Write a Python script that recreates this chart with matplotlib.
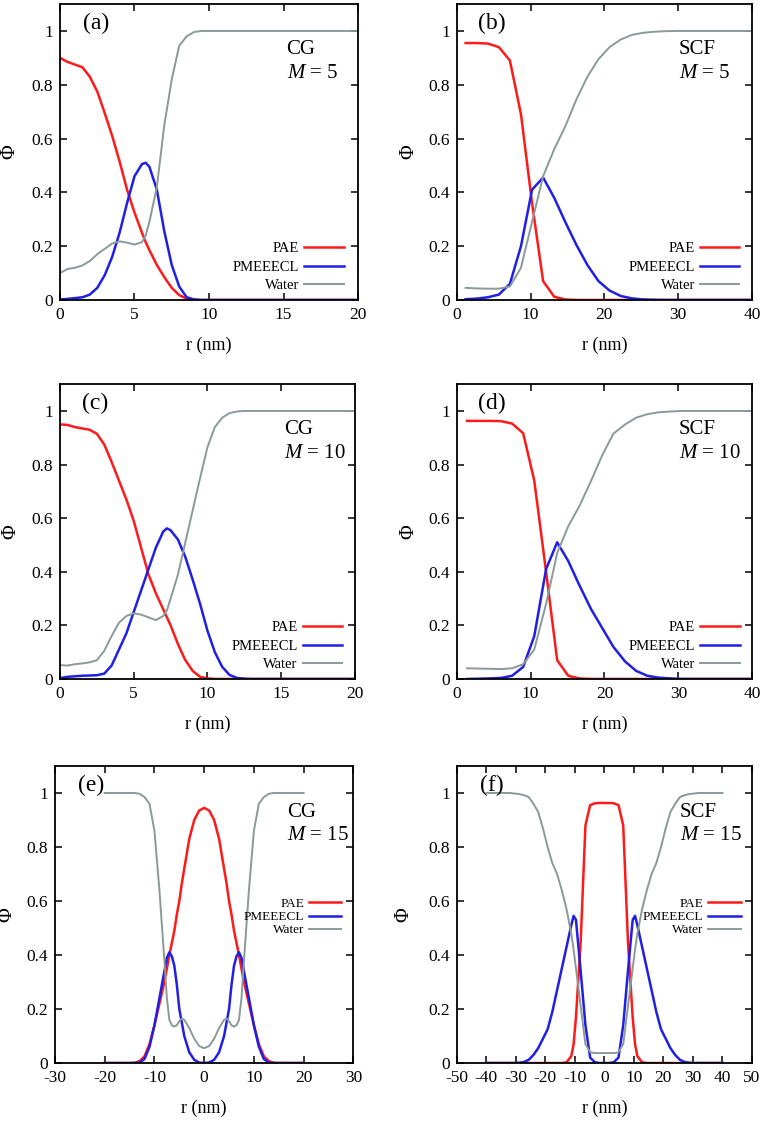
import matplotlib
matplotlib.use("Agg")
import matplotlib.pyplot as plt

plt.rcParams['font.family'] = ['Liberation Serif', 'DejaVu Serif']
plt.rcParams['mathtext.fontset'] = 'custom'
plt.rcParams['mathtext.rm'] = 'Liberation Serif'
plt.rcParams['mathtext.it'] = 'Liberation Serif:italic'

# ---- (a) CG, M = 5 ----
a_r = [0, 0.5, 1, 1.5, 2, 2.5, 3, 3.5, 4, 4.5, 5, 5.5, 5.75, 6, 6.5, 7, 7.5, 8, 8.5, 9, 9.5, 10, 20]
a_pae = [0.90, 0.885, 0.875, 0.865, 0.83, 0.775, 0.695, 0.61, 0.515, 0.41, 0.325, 0.25, 0.215, 0.185, 0.13,
         0.085, 0.045, 0.018, 0.005, 0.001, 0.0, 0.0, 0.0]
a_pme = [0.002, 0.004, 0.007, 0.01, 0.02, 0.045, 0.092, 0.16, 0.25, 0.36, 0.46, 0.505, 0.51, 0.495, 0.41,
         0.255, 0.13, 0.05, 0.01, 0.002, 0.0, 0.0, 0.0]
a_wat = [0.10, 0.115, 0.12, 0.128, 0.145, 0.17, 0.19, 0.21, 0.218, 0.213, 0.206, 0.215, 0.24, 0.29, 0.42,
         0.65, 0.82, 0.945, 0.98, 0.996, 1.0, 1.0, 1.0]

# ---- (b) SCF, M = 5 ----
b_r = [1.2, 2.7, 4.2, 5.7, 7.2, 8.7, 10.2, 11.7, 13.2, 14.7, 16.2, 17.7, 19.2, 20.7, 22.2, 23.7, 25.2, 26.7,
       28.2, 29.7, 40]
b_pae = [0.955, 0.955, 0.953, 0.94, 0.89, 0.69, 0.36, 0.07, 0.012, 0.002, 0, 0, 0, 0, 0, 0, 0, 0, 0, 0, 0]
b_pme = [0.003, 0.005, 0.01, 0.02, 0.06, 0.2, 0.41, 0.455, 0.38, 0.29, 0.205, 0.13, 0.07, 0.035, 0.015, 0.006,
         0.002, 0.0005, 0, 0, 0]
b_wat = [0.045, 0.043, 0.042, 0.042, 0.05, 0.12, 0.29, 0.46, 0.56, 0.645, 0.745, 0.83, 0.895, 0.94, 0.968,
         0.985, 0.993, 0.997, 0.999, 1.0, 1.0]

# ---- (c) CG, M = 10 ----
c_r = [0, 0.5, 1, 1.5, 2, 2.5, 3, 3.5, 4, 4.5, 5, 5.5, 6, 6.5, 7, 7.25, 7.5, 8, 8.5, 9, 9.5, 10, 10.5, 11,
       11.5, 12, 12.5, 13, 20]
c_pae = [0.95, 0.948, 0.94, 0.935, 0.93, 0.915, 0.875, 0.81, 0.74, 0.67, 0.59, 0.49, 0.39, 0.32, 0.26, 0.23,
         0.2, 0.13, 0.07, 0.03, 0.008, 0.002, 0, 0, 0, 0, 0, 0, 0]
c_pme = [0.003, 0.008, 0.01, 0.012, 0.013, 0.014, 0.02, 0.05, 0.11, 0.17, 0.25, 0.33, 0.41, 0.49, 0.55, 0.562,
         0.555, 0.52, 0.455, 0.37, 0.28, 0.18, 0.1, 0.045, 0.015, 0.004, 0.001, 0, 0]
c_wat = [0.052, 0.05, 0.055, 0.058, 0.062, 0.07, 0.105, 0.16, 0.21, 0.235, 0.245, 0.24, 0.23, 0.22, 0.235,
         0.256, 0.3, 0.39, 0.51, 0.63, 0.75, 0.865, 0.94, 0.975, 0.992, 0.998, 1.0, 1.0, 1.0]

# ---- (d) SCF, M = 10 ----
d_r = [1.4, 2.9, 4.4, 6.0, 7.5, 9.0, 10.5, 12.1, 13.6, 15.1, 16.6, 18.2, 19.7, 21.2, 22.8, 24.3, 25.8, 27.3,
       28.9, 30.4, 40]
d_pae = [0.963, 0.963, 0.963, 0.962, 0.953, 0.917, 0.74, 0.40, 0.07, 0.012, 0.002, 0, 0, 0, 0, 0, 0, 0, 0, 0, 0]
d_pme = [0.0, 0.001, 0.002, 0.004, 0.012, 0.045, 0.16, 0.41, 0.51, 0.44, 0.35, 0.26, 0.19, 0.12, 0.065, 0.03,
         0.012, 0.005, 0.002, 0.0, 0.0]
d_wat = [0.04, 0.039, 0.038, 0.037, 0.04, 0.055, 0.11, 0.28, 0.47, 0.57, 0.645, 0.74, 0.835, 0.915, 0.95,
         0.975, 0.988, 0.995, 0.998, 1.0, 1.0]

# ---- (e) CG, M = 15 ----
e_r = [-20, -15, -14, -13, -12, -11, -10, -9, -8, -7.5, -7, -6.5, -6, -5.5, -5, -4.5, -4, -3, -2, -1, 0,
       1, 2, 3, 4, 4.5, 5, 5.5, 6, 6.5, 7, 7.5, 8, 9, 10, 11, 12, 13, 14, 15, 20]
e_pae = [0, 0, 0.001, 0.007, 0.025, 0.07, 0.14, 0.22, 0.3, 0.35, 0.40, 0.445, 0.49, 0.55, 0.6, 0.665, 0.72,
         0.83, 0.9, 0.935, 0.945,
         0.935, 0.9, 0.83, 0.72, 0.665, 0.6, 0.55, 0.49, 0.445, 0.40, 0.35, 0.3, 0.22, 0.14, 0.07, 0.025,
         0.007, 0.001, 0, 0]
e_pme = [0, 0, 0, 0.002, 0.015, 0.06, 0.14, 0.24, 0.34, 0.39, 0.41, 0.395, 0.36, 0.29, 0.2, 0.15, 0.1,
         0.04, 0.012, 0.002, 0.0,
         0.002, 0.012, 0.04, 0.1, 0.15, 0.2, 0.29, 0.36, 0.395, 0.41, 0.39, 0.34, 0.24, 0.14, 0.06, 0.015,
         0.002, 0, 0, 0]
e_wat = [1.0, 1.0, 1.0, 0.997, 0.985, 0.96, 0.86, 0.64, 0.38, 0.24, 0.16, 0.14, 0.135, 0.14, 0.155, 0.165,
         0.16, 0.13, 0.09, 0.063, 0.055,
         0.063, 0.09, 0.13, 0.16, 0.165, 0.155, 0.14, 0.135, 0.14, 0.16, 0.24, 0.38, 0.64, 0.86, 0.96, 0.985,
         0.997, 1.0, 1.0, 1.0]

# ---- (f) SCF, M = 15 ----
f_r = [-40, -32, -30.4, -28.8, -27.2, -25.6, -24.0, -22.4, -20.8, -19.2, -17.6, -16.0, -14.4, -12.8, -11.2,
       -10.4, -9.6, -8.0, -6.4, -4.8, -3.2, -1.6, 0,
       1.6, 3.2, 4.8, 6.4, 8.0, 9.6, 10.4, 11.2, 12.8, 14.4, 16.0, 17.6, 19.2, 20.8, 22.4, 24.0, 25.6, 27.2,
       28.8, 30.4, 32, 40]
f_pae = [0, 0, 0, 0, 0, 0, 0, 0, 0, 0, 0, 0, 0, 0.003, 0.025, 0.07, 0.17, 0.45, 0.88, 0.955, 0.962, 0.963,
         0.963,
         0.963, 0.962, 0.955, 0.88, 0.45, 0.17, 0.07, 0.025, 0.003, 0, 0, 0, 0, 0, 0, 0, 0, 0, 0, 0, 0, 0]
f_pme = [0, 0, 0, 0.001, 0.004, 0.012, 0.03, 0.055, 0.09, 0.125, 0.19, 0.27, 0.35, 0.43, 0.51, 0.545, 0.53,
         0.34, 0.14, 0.02, 0.003, 0.0, 0.0,
         0.0, 0.003, 0.02, 0.14, 0.34, 0.53, 0.545, 0.51, 0.43, 0.35, 0.27, 0.19, 0.125, 0.09, 0.055, 0.03,
         0.012, 0.004, 0.001, 0, 0, 0]
f_wat = [1.0, 1.0, 0.998, 0.996, 0.992, 0.985, 0.96, 0.93, 0.87, 0.8, 0.74, 0.7, 0.64, 0.57, 0.48, 0.42,
         0.35, 0.21, 0.07, 0.04, 0.037, 0.037, 0.037,
         0.037, 0.037, 0.04, 0.07, 0.21, 0.35, 0.42, 0.48, 0.57, 0.64, 0.7, 0.74, 0.8, 0.87, 0.93, 0.96,
         0.985, 0.992, 0.996, 0.998, 1.0, 1.0]

y_ticks = [0, 0.2, 0.4, 0.6, 0.8, 1]
y_labels = ['0', '0.2', '0.4', '0.6', '0.8', '1']

RED = '#ff1a1a'
BLUE = '#1f1fe6'
GRAY = '#8b9999'

panels = [
    # label, method, M, data, xlim, xticks, axes rect, ylabel x, text x, legend anchor, size, handle, spacing
    ('(a)', 'CG', '5', (a_r, a_pae, a_pme, a_wat), (0, 20), [0, 5, 10, 15, 20],
     [0.0782, 0.7324, 0.3886, 0.2640], -0.135, 0.76, (0.952, 0.026), 10.5, 2.7, 0.36),
    ('(b)', 'SCF', '5', (b_r, b_pae, b_pme, b_wat), (0, 40), [0, 10, 20, 30, 40],
     [0.5955, 0.7324, 0.3850, 0.2640], -0.13, 0.752, (0.957, 0.026), 10.5, 2.7, 0.36),
    ('(c)', 'CG', '10', (c_r, c_pae, c_pme, c_wat), (0, 20), [0, 5, 10, 15, 20],
     [0.0782, 0.3943, 0.3846, 0.2630], -0.135, 0.76, (0.957, 0.026), 10.5, 2.7, 0.36),
    ('(d)', 'SCF', '10', (d_r, d_pae, d_pme, d_wat), (0, 40), [0, 10, 20, 30, 40],
     [0.5954, 0.3943, 0.3854, 0.2630], -0.13, 0.752, (0.957, 0.026), 10.5, 2.7, 0.36),
    ('(e)', 'CG', '15', (e_r, e_pae, e_pme, e_wat), (-30, 30), [-30, -20, -10, 0, 10, 20, 30],
     [0.0717, 0.0517, 0.3890, 0.2650], -0.128, 0.777, (0.957, 0.426), 9.5, 2.4, 0.08),
    ('(f)', 'SCF', '15', (f_r, f_pae, f_pme, f_wat), (-50, 50), [-50, -40, -30, -20, -10, 0, 10, 20, 30, 40, 50],
     [0.5954, 0.0517, 0.3850, 0.2650], -0.145, 0.755, (0.963, 0.426), 9.5, 2.5, 0.08),
]

fig = plt.figure(figsize=(7.67, 11.21), dpi=100)

for (lab, method, M, (r, pae, pme, wat), xlim, xticks, rect, ylx, txt_x,
     leg_anchor, leg_fs, leg_hl, leg_sp) in panels:
    ax = fig.add_axes(rect)
    ax.plot(r, pae, color=RED, lw=1.8, label='PAE')
    ax.plot(r, pme, color=BLUE, lw=1.8, label='PMEEECL')
    ax.plot(r, wat, color=GRAY, lw=1.4, label='Water')

    ax.set_xlim(*xlim)
    ax.set_ylim(0, 1.1)
    ax.set_xticks(xticks)
    ax.set_xticklabels([str(t) for t in xticks])
    ax.set_yticks(y_ticks)
    ax.set_yticklabels(y_labels)
    ax.tick_params(direction='in', length=5, width=1.1, top=True, right=True,
                   labelsize=12.5, pad=5)
    for s in ax.spines.values():
        s.set_linewidth(1.3)

    ax.set_xlabel('r (nm)', fontsize=13)
    ax.xaxis.set_label_coords(0.5, -0.125)
    ax.set_ylabel('Φ', fontsize=14.5)
    ax.yaxis.set_label_coords(ylx, 0.5)

    ax.text(0.12, 0.935, lab, transform=ax.transAxes, fontsize=17,
            ha='center', va='center')
    ax.text(txt_x, 0.845, method, transform=ax.transAxes, fontsize=15,
            ha='left', va='center')
    ax.text(txt_x, 0.765, r'$M$ = ' + M, transform=ax.transAxes, fontsize=15,
            ha='left', va='center')

    ax.legend(loc='lower right', bbox_to_anchor=leg_anchor, frameon=False,
              markerfirst=False, fontsize=leg_fs, handlelength=leg_hl,
              handletextpad=0.35, labelspacing=leg_sp, borderpad=0, borderaxespad=0)

fig.savefig('out.png', dpi=100)
